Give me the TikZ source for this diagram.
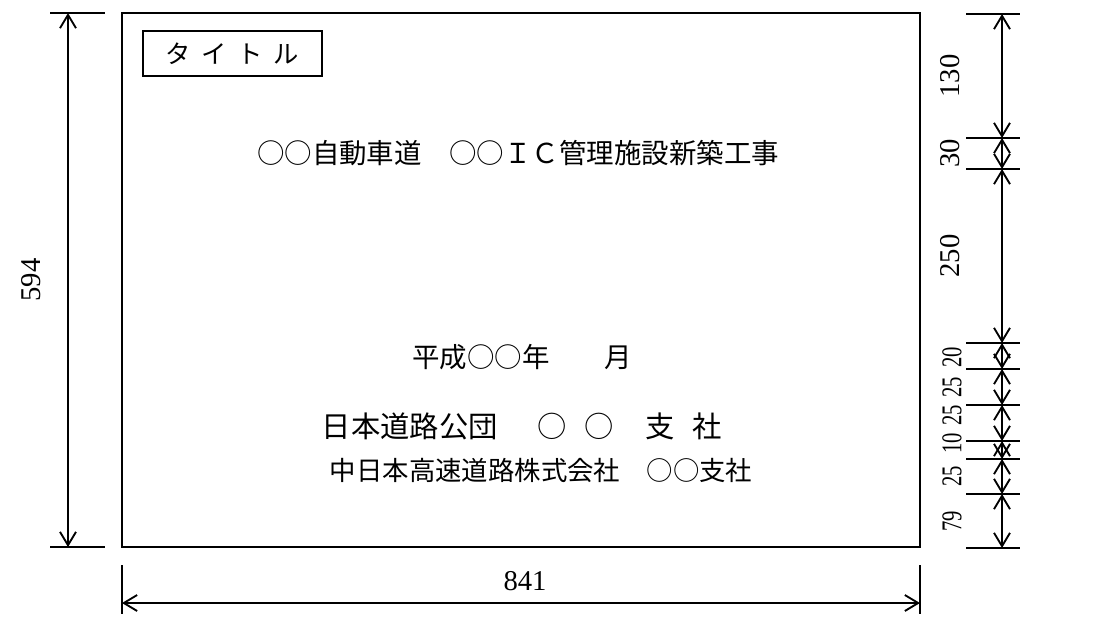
\documentclass[tikz,border=0pt]{standalone}
\usepackage{fontspec}
\newfontfamily\jp{Noto Sans CJK JP}
\newfontfamily\numfont{Liberation Serif}
\usetikzlibrary{arrows.meta}
\tikzset{
  dim/.style={line width=1.4pt,{Straight Barb[length=10pt,width=12pt]}-{Straight Barb[length=10pt,width=12pt]}},
  ext/.style={line width=1.4pt},
  num/.style={font=\numfont\fontsize{21.5}{21.5}\selectfont,inner sep=0pt},
  jtext/.style={inner sep=0pt}
}
\begin{document}
\begin{tikzpicture}[x=0.75pt,y=-0.75pt]
    \useasboundingbox (0,0) rectangle (1113,619);
    % sheet
    \draw[line width=1.5pt] (122,13) rectangle (920,547);
    \node[draw,line width=1.4pt,inner sep=0pt,minimum width=134pt,minimum height=34pt,
      font=\jp\fontsize{19}{19}\selectfont] (titlebox) at (232.5,53.5)
      {タ\hspace{0.42em}イ\hspace{0.42em}ト\hspace{0.42em}ル};
    \node[jtext,font=\jp\fontsize{20.6}{20.6}\selectfont] (project) at (518,153)
      {○○自動車道　○○ＩＣ管理施設新築工事};
    \node[jtext,font=\jp\fontsize{20.6}{20.6}\selectfont] (date) at (522,357)
      {平成○○年　　月};
    \node[jtext,font=\jp\fontsize{22}{22}\selectfont] (owner) at (522,426)
      {日本道路公団\hspace{1.35em}○\hspace{0.6em}○\hspace{1.1em}支\hspace{0.6em}社};
    \node[jtext,font=\jp\fontsize{19.8}{19.8}\selectfont] (company) at (541,470)
      {中日本高速道路株式会社　○○支社};
    % height
    \coordinate (htop) at (68,13);
    \coordinate (hbot) at (68,547);
    \draw[ext] (50,13) -- (105,13);
    \draw[ext] (50,547) -- (105,547);
    \draw[dim] (htop) -- (hbot) node[num,midway,rotate=90,yshift=28pt] (height) {594};
    % width
    \coordinate (wleft) at (122,603);
    \coordinate (wright) at (920,603);
    \draw[ext] (122,565) -- (122,614);
    \draw[ext] (920,565) -- (920,614);
    \draw[dim] (wleft) -- (wright);
    \node[num] (width) at (525,581) {841};
    % partition
    \foreach \y in {14,138,169,343,369,405,441,459,494,548}
      \draw[ext] (966,\y) -- (1020,\y);
    \foreach \a/\b/\t in {14/138/130,138/169/30,169/343/250}{
      \draw[dim] (1002,\a) -- (1002,\b);
      \node[num,rotate=90] at (950,{(\a+\b)/2}) {\t};
    }
    \foreach \a/\b/\t/\m in {343/369/20/357,369/405/25/387,405/441/25/415,441/459/10/443,459/494/25/476,494/548/79/521}{
      \draw[dim] (1002,\a) -- (1002,\b);
      \node[num,rotate=90] at (952,\m) {\scalebox{0.72}[1]{\t}};
    }
\end{tikzpicture}
\end{document}
